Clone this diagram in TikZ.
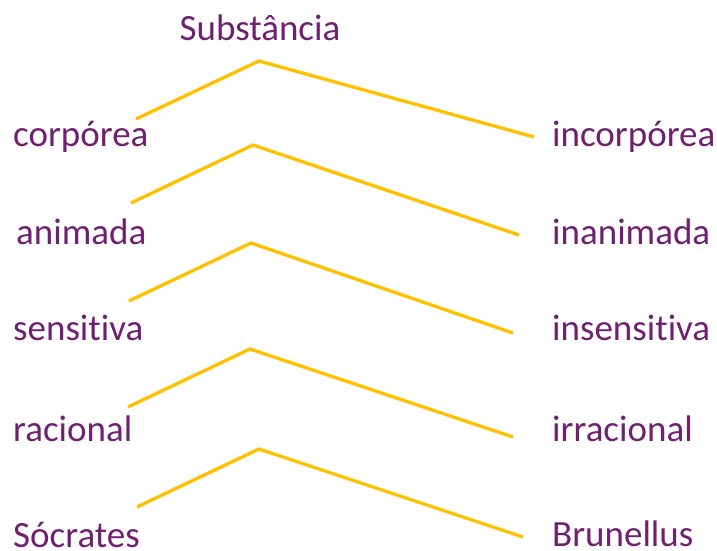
\documentclass[tikz,border=0pt]{standalone}
\usepackage{fontspec}
\setmainfont[Ligatures=NoCommon]{Carlito}
\definecolor{txtpurple}{RGB}{112,32,112}
\definecolor{branch}{RGB}{255,192,0}
\tikzset{
  term/.style={inner sep=0pt, text=txtpurple, font=\fontsize{37}{41}\selectfont},
  lterm/.style={term, anchor=base west},
  branchline/.style={draw=branch, line width=3.3pt, line join=miter}
}
\begin{document}
\begin{tikzpicture}[x=1pt,y=-1pt]
\useasboundingbox (0,0) rectangle (717,550);
% terms
\node[term, anchor=base] (subst) at (260,40) {Substância};
\node[lterm] (corp) at (13,146) {corpórea};
\node[lterm] (incorp) at (552,146) {incorpórea};
\node[lterm] (anim) at (16,244) {animada};
\node[lterm] (inanim) at (552,244) {inanimada};
\node[lterm] (sens) at (13,340) {sensitiva};
\node[lterm] (insens) at (552,340) {insensitiva};
\node[lterm] (rac) at (13,441) {racional};
\node[lterm] (irrac) at (552,441) {irracional};
\node[lterm] (socr) at (13,547) {Sócrates};
\node[lterm] (brun) at (552,546) {Brunellus};
% branch points
\coordinate (a1) at (259,61);  \coordinate (l1) at (136,119); \coordinate (r1) at (534,137);
\coordinate (a2) at (253,145); \coordinate (l2) at (131,203); \coordinate (r2) at (519,235);
\coordinate (a3) at (251,243); \coordinate (l3) at (129,301); \coordinate (r3) at (513,333);
\coordinate (a4) at (250,349); \coordinate (l4) at (128,407); \coordinate (r4) at (513,437);
\coordinate (a5) at (259,449); \coordinate (l5) at (137,507); \coordinate (r5) at (523,537);
\foreach \i in {1,...,5}{
  \draw[branchline] (l\i) -- (a\i) -- (r\i);
}
\end{tikzpicture}
\end{document}
